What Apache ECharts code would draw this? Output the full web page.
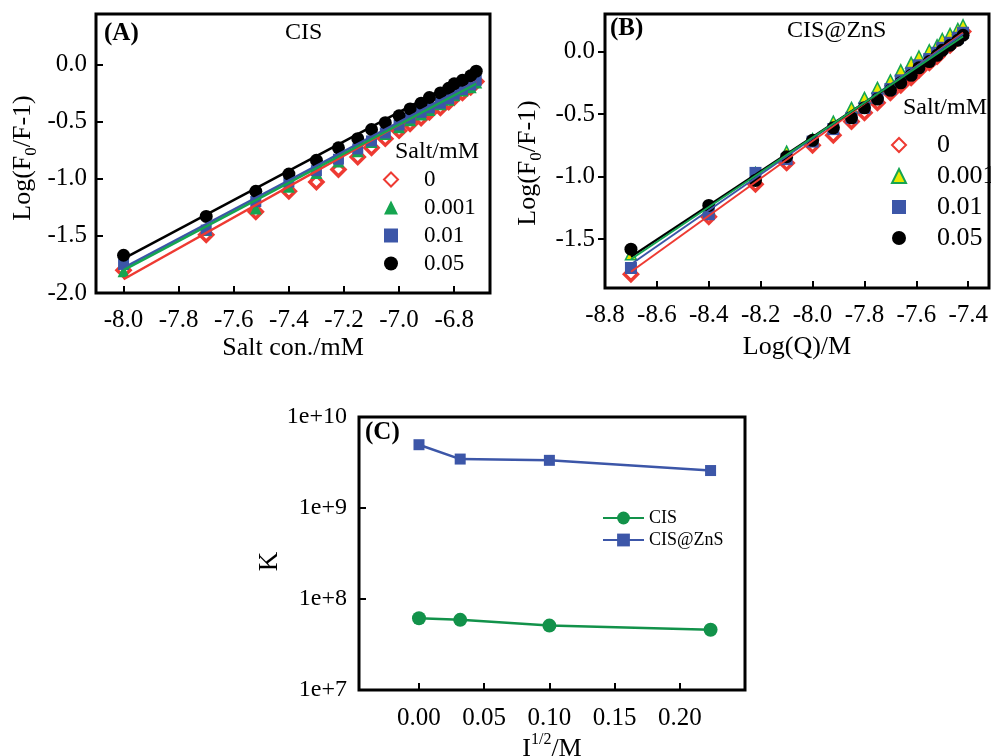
<!DOCTYPE html>
<html lang="en">
<head>
    <meta charset="utf-8" />
    <title>Salt quenching</title>
    <script src="https://cdn.jsdelivr.net/npm/echarts@6/dist/echarts.min.js"></script>
    <style>
        html, body, #main {
            width: 100%;
            height: 100%;
            padding: 0;
            margin: 0;
            background: #fff;
        }
    </style>
</head>
<body>
<div id="main"></div>
<script>
    // panel A: CIS, x = log of salt concentration
    var xA = [-8.00, -7.70, -7.52, -7.40, -7.30, -7.22, -7.15, -7.10, -7.05, -7.00, -6.96, -6.92, -6.89, -6.85, -6.82, -6.80, -6.77, -6.74, -6.72];
    var a0    = [-1.80, -1.49, -1.29, -1.11, -1.03, -0.92, -0.81, -0.73, -0.65, -0.58, -0.52, -0.47, -0.42, -0.38, -0.33, -0.29, -0.25, -0.20, -0.15];
    var a001  = [-1.81, -1.45, -1.26, -1.07, -0.95, -0.85, -0.76, -0.68, -0.61, -0.55, -0.49, -0.44, -0.40, -0.35, -0.31, -0.27, -0.23, -0.20, -0.16];
    var a01   = [-1.75, -1.45, -1.20, -1.03, -0.93, -0.83, -0.74, -0.67, -0.60, -0.53, -0.47, -0.42, -0.38, -0.34, -0.30, -0.26, -0.22, -0.18, -0.14];
    var a05   = [-1.67, -1.33, -1.11, -0.96, -0.84, -0.73, -0.65, -0.57, -0.51, -0.45, -0.39, -0.34, -0.29, -0.25, -0.21, -0.17, -0.14, -0.10, -0.06];
    var fitXA = [-8.00, -6.72];
    var fitA0 = [-1.88, -0.15];
    var fitA001 = [-1.80, -0.17];
    var fitA01 = [-1.78, -0.15];
    var fitA05 = [-1.70, -0.06];
    var ticksXA = [-8.0, -7.8, -7.6, -7.4, -7.2, -7.0, -6.8];
    var ticksYA = [-2.0, -1.5, -1.0, -0.5, 0.0];

    // panel B: CIS@ZnS, x = Log(Q)
    var xB = [-8.70, -8.40, -8.22, -8.10, -8.00, -7.92, -7.85, -7.80, -7.75, -7.70, -7.66, -7.62, -7.59, -7.55, -7.52, -7.50, -7.47, -7.44, -7.42];
    var b0   = [-1.78, -1.32, -1.06, -0.89, -0.75, -0.67, -0.56, -0.49, -0.41, -0.33, -0.27, -0.21, -0.15, -0.09, -0.04, 0.01, 0.05, 0.11, 0.16];
    var b001 = [-1.62, -1.25, -0.97, -0.80, -0.70, -0.56, -0.45, -0.37, -0.29, -0.23, -0.15, -0.09, -0.04, 0.01, 0.05, 0.10, 0.14, 0.18, 0.21];
    var b01  = [-1.73, -1.30, -0.97, -0.86, -0.72, -0.62, -0.53, -0.45, -0.37, -0.30, -0.23, -0.17, -0.11, -0.06, -0.01, 0.03, 0.07, 0.11, 0.15];
    var b05  = [-1.58, -1.23, -1.03, -0.84, -0.71, -0.61, -0.53, -0.45, -0.38, -0.31, -0.25, -0.19, -0.13, -0.08, -0.03, 0.01, 0.05, 0.09, 0.13];
    var fitXB = [-8.70, -7.42];
    var fitB0 = [-1.76, 0.15];
    var fitB001 = [-1.66, 0.12];
    var fitB01 = [-1.70, 0.14];
    var fitB05 = [-1.64, 0.11];
    var ticksXB = [-8.8, -8.6, -8.4, -8.2, -8.0, -7.8, -7.6, -7.4];
    var ticksYB = [-1.5, -1.0, -0.5, 0.0];

    // panel C: binding constant vs ionic strength
    var xC = [0, 0.0316, 0.1, 0.2236];
    var kCIS = [6.15e7, 5.9e7, 5.1e7, 4.6e7];
    var kZnS = [4.96e9, 3.45e9, 3.34e9, 2.58e9];
    var ticksXC = [0, 0.05, 0.10, 0.15, 0.20];

    var FONT = 'Liberation Serif';
    var RED = '#ee3a32', GREEN = '#15a550', BLUE = '#3c56a8', DKGREEN = '#12924a';

    function zip(xs, ys) {
        return xs.map(function (x, i) { return [x, ys[i]]; });
    }

    function valAxis(grid, min, max, ticks, digits, inside, margin, extra) {
        var ax = {
            type: 'value', gridIndex: grid, min: min, max: max,
            axisLine: {show: false, onZero: false},
            splitLine: {show: false},
            axisTick: {show: true, inside: inside, length: 7, lineStyle: {color: '#000', width: 2}, customValues: ticks},
            axisLabel: {
                customValues: ticks, color: '#000', fontFamily: FONT, fontSize: 25, margin: margin,
                formatter: function (v) { return Number(v).toFixed(digits); }
            },
            nameLocation: 'middle',
            nameTextStyle: {color: '#000', fontFamily: FONT, fontSize: 26}
        };
        for (var k in extra) ax[k] = extra[k];
        return ax;
    }

    var myChart = echarts.init(document.getElementById('main'));

    var seriesA = [
        {name: 'A 0', data: zip(xA, a0), symbol: 'diamond', symbolSize: 13, itemStyle: {color: '#fff', borderColor: RED, borderWidth: 3.5}},
        {name: 'A 0.001', data: zip(xA, a001), symbol: 'triangle', symbolSize: 12, itemStyle: {color: GREEN}},
        {name: 'A 0.01', data: zip(xA, a01), symbol: 'rect', symbolSize: 11, itemStyle: {color: BLUE}},
        {name: 'A 0.05', data: zip(xA, a05), symbol: 'circle', symbolSize: 13, itemStyle: {color: '#000'}}
    ];
    var seriesB = [
        {name: 'B 0', data: zip(xB, b0), symbol: 'diamond', symbolSize: 13, itemStyle: {color: '#fff', borderColor: RED, borderWidth: 3.5}},
        {name: 'B 0.001', data: zip(xB, b001), symbol: 'triangle', symbolSize: 11, itemStyle: {color: '#e9e800', borderColor: GREEN, borderWidth: 1.5}},
        {name: 'B 0.01', data: zip(xB, b01), symbol: 'rect', symbolSize: 12, itemStyle: {color: BLUE}},
        {name: 'B 0.05', data: zip(xB, b05), symbol: 'circle', symbolSize: 13, itemStyle: {color: '#000'}}
    ];
    var series = [];
    seriesA.forEach(function (s) { s.type = 'scatter'; s.xAxisIndex = 0; s.yAxisIndex = 0; s.itemStyle.opacity = 1; series.push(s); });
    seriesB.forEach(function (s) { s.type = 'scatter'; s.xAxisIndex = 1; s.yAxisIndex = 1; s.itemStyle.opacity = 1; series.push(s); });

    function fit(idx, xs, ys, color, w) {
        return {type: 'line', xAxisIndex: idx, yAxisIndex: idx, data: zip(xs, ys), showSymbol: false, silent: true,
            lineStyle: {color: color, width: w}, z: 3};
    }
    series.push(fit(0, fitXA, fitA0, RED, 2.5), fit(0, fitXA, fitA01, BLUE, 2.5),
        fit(0, fitXA, fitA001, GREEN, 2.5), fit(0, fitXA, fitA05, '#000', 2.5));
    series.push(fit(1, fitXB, fitB0, RED, 2), fit(1, fitXB, fitB01, BLUE, 2),
        fit(1, fitXB, fitB05, '#000', 2.2), fit(1, fitXB, fitB001, GREEN, 2));

    series.push(
        {name: 'CIS', type: 'line', xAxisIndex: 2, yAxisIndex: 2, data: zip(xC, kCIS), symbol: 'circle', symbolSize: 14,
            itemStyle: {color: DKGREEN, opacity: 1}, lineStyle: {color: DKGREEN, width: 2.5}},
        {name: 'CIS@ZnS', type: 'line', xAxisIndex: 2, yAxisIndex: 2, data: zip(xC, kZnS), symbol: 'rect', symbolSize: 11,
            itemStyle: {color: BLUE, opacity: 1}, lineStyle: {color: BLUE, width: 2.5}}
    );

    // outerBoundsMode none: keep the grids exactly where placed
    var gridStyle = {show: true, borderColor: '#000', borderWidth: 3, backgroundColor: 'transparent',
        containLabel: false, outerBoundsMode: 'none'};
    var txt = function (text, left, top, size, bold) {
        return {text: text, left: left, top: top, padding: 0,
            textStyle: {fontFamily: FONT, fontSize: size, fontWeight: bold ? 'bold' : 'normal', color: '#000'}};
    };
    var stripName = function (name) { return name.replace(/^[AB] /, ''); };

    myChart.setOption({
        animation: false,
        backgroundColor: '#fff',
        title: [
            txt('(A)', 104, 21, 25, true),
            txt('CIS', 285, 21, 24),
            txt('Salt/mM', 395, 140, 24),
            txt('(B)', 610, 16, 25, true),
            txt('CIS@ZnS', 787, 19, 24),
            txt('Salt/mM', 903, 96, 24),
            txt('(C)', 365, 420, 25, true)
        ],
        legend: [
            {data: seriesA.map(function (s) { return s.name; }), orient: 'vertical', left: 378, top: 163,
                itemWidth: 14, itemHeight: 14, itemGap: 5, formatter: stripName,
                textStyle: {fontFamily: FONT, fontSize: 23, lineHeight: 23, color: '#000', padding: [0, 0, 0, 21]}},
            {data: seriesB.map(function (s) { return s.name; }), orient: 'vertical', left: 886, top: 127,
                itemWidth: 14, itemHeight: 14, itemGap: 5, formatter: stripName,
                textStyle: {fontFamily: FONT, fontSize: 26, lineHeight: 26, color: '#000', padding: [0, 0, 0, 26],
                    overflow: 'none'}},
            {data: ['CIS', 'CIS@ZnS'], orient: 'vertical', left: 597, top: 504, itemWidth: 41, itemHeight: 16, itemGap: 4,
                textStyle: {fontFamily: FONT, fontSize: 18, lineHeight: 18, color: '#000'}}
        ],
        grid: [
            Object.assign({left: 96, top: 14, width: 394, height: 279}, gridStyle),
            Object.assign({left: 605, top: 14, width: 384, height: 274}, gridStyle),
            Object.assign({left: 359, top: 417, width: 386, height: 273}, gridStyle)
        ],
        xAxis: [
            valAxis(0, -8.1, -6.67, ticksXA, 1, true, 15, {name: 'Salt con./mM', nameGap: 42}),
            valAxis(1, -8.8, -7.32, ticksXB, 1, true, 15, {name: 'Log(Q)/M', nameGap: 46}),
            valAxis(2, -0.046, 0.25, ticksXC, 2, true, 16, {
                name: '{n|I}{s|1/2}{n|/M}', nameGap: 42,
                nameTextStyle: {rich: {
                    n: {fontFamily: FONT, fontSize: 26, color: '#000', lineHeight: 30, verticalAlign: 'bottom'},
                    s: {fontFamily: FONT, fontSize: 16, color: '#000', lineHeight: 18, verticalAlign: 'top'}
                }}
            })
        ],
        yAxis: [
            valAxis(0, -2.0, 0.44, ticksYA, 1, true, 9, {
                name: '{n|Log(F}{s|0}{n|/F-1)}', nameGap: 56,
                nameTextStyle: {padding: [0, 9, 0, 0], rich: {
                    n: {fontFamily: FONT, fontSize: 26, color: '#000', lineHeight: 30, verticalAlign: 'top'},
                    s: {fontFamily: FONT, fontSize: 17, color: '#000', lineHeight: 18, verticalAlign: 'bottom'}
                }}
            }),
            valAxis(1, -1.89, 0.30, ticksYB, 1, false, 10, {
                name: '{n|Log(F}{s|0}{n|/F-1)}', nameGap: 60,
                nameTextStyle: {padding: [0, 24, 0, 0], rich: {
                    n: {fontFamily: FONT, fontSize: 26, color: '#000', lineHeight: 30, verticalAlign: 'top'},
                    s: {fontFamily: FONT, fontSize: 17, color: '#000', lineHeight: 18, verticalAlign: 'bottom'}
                }}
            }),
            {
                type: 'log', gridIndex: 2, logBase: 10, min: 1e7, max: 1e10,
                axisLine: {show: false, onZero: false},
                splitLine: {show: false},
                minorTick: {show: false},
                axisTick: {show: true, inside: true, length: 7, lineStyle: {color: '#000', width: 2}},
                axisLabel: {color: '#000', fontFamily: FONT, fontSize: 24, margin: 12,
                    formatter: function (v) { return '1e+' + Math.round(Math.log(v) / Math.LN10); }},
                name: 'K', nameLocation: 'middle', nameGap: 74,
                nameTextStyle: {color: '#000', fontFamily: FONT, fontSize: 27, padding: [0, 16, 0, 0]}
            }
        ],
        series: series
    });
</script>
</body>
</html>
